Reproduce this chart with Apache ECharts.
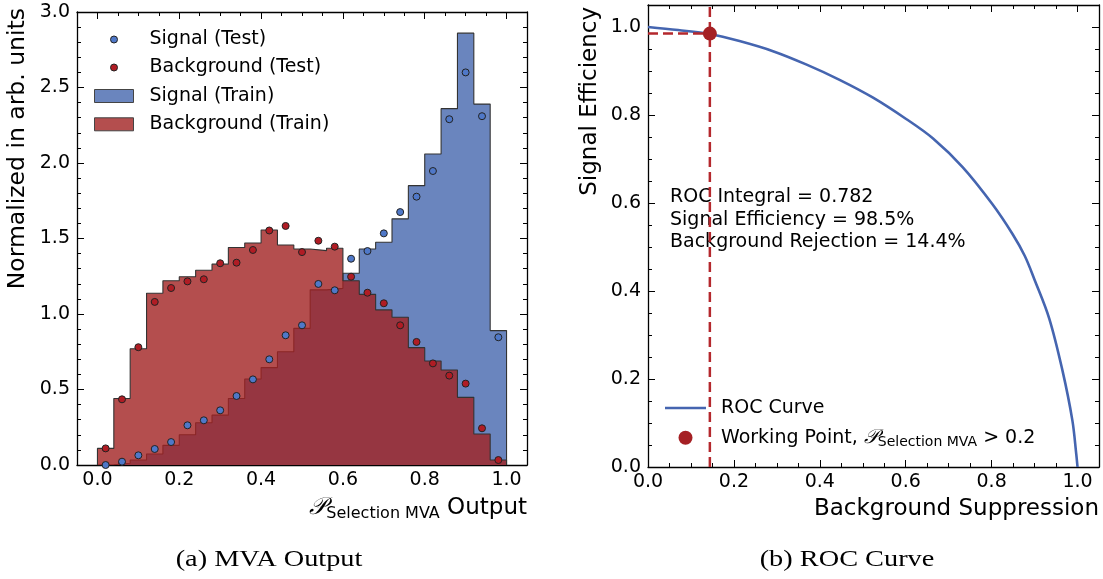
<!DOCTYPE html>
<html>
<head>
<meta charset="utf-8">
<script src="https://cdn.jsdelivr.net/npm/echarts@6/dist/echarts.min.js"></script>
<style>
html, body { margin: 0; padding: 0; background: #ffffff; }
#chart { width: 1103px; height: 579px; }
</style>
</head>
<body>
<div id="chart"></div>
<script>
// MVA output histograms: 25 bins of width 0.04 on [0, 1]
const binLow = 0.0;
const binWidth = 0.04;

const signalTrain = [0.002, 0.012, 0.033, 0.073, 0.13, 0.20, 0.28, 0.33, 0.44, 0.57, 0.645, 0.75, 0.905,
  1.16, 1.17, 1.27, 1.43, 1.475, 1.63, 1.85, 2.06, 2.36, 2.86, 2.39, 0.89];
const backgroundTrain = [0.11, 0.44, 0.77, 1.137, 1.22, 1.247, 1.29, 1.33, 1.44, 1.47, 1.556, 1.457, 1.43,
  1.42, 1.435, 1.22, 1.13, 1.027, 0.978, 0.777, 0.689, 0.629, 0.448, 0.205, 0.033];
const signalTest = [0.0, 0.022, 0.064, 0.106, 0.152, 0.263, 0.296, 0.362, 0.457, 0.567, 0.70, 0.859, 0.925,
  1.199, 1.157, 1.366, 1.417, 1.534, 1.675, 1.777, 1.947, 2.29, 2.60, 2.31, 0.846];
const backgroundTest = [0.11, 0.435, 0.78, 1.08, 1.172, 1.216, 1.23, 1.336, 1.34, 1.424, 1.553, 1.583, 1.41,
  1.485, 1.446, 1.247, 1.141, 1.071, 0.925, 0.815, 0.673, 0.592, 0.539, 0.243, 0.033];

// ROC curve: background suppression vs. signal efficiency
const rocSuppression = [0.0, 0.07, 0.144, 0.213, 0.291, 0.368, 0.446, 0.523, 0.601, 0.663, 0.733, 0.802,
  0.849, 0.877, 0.899, 0.934, 0.965, 0.988, 0.997, 1.0];
const rocEfficiency = [1.0, 0.993, 0.984, 0.968, 0.945, 0.915, 0.880, 0.840, 0.791, 0.747, 0.681, 0.597,
  0.529, 0.480, 0.428, 0.338, 0.219, 0.106, 0.03, 0.0];

// Working point summary
const rocIntegral = 0.782;
const wpEfficiency = 0.985;
const wpRejection = 0.144;
const wpCut = 0.2;

// Tick labels
const histXTicks = [0.0, 0.2, 0.4, 0.6, 0.8, 1.0];
const histYTicks = [0.0, 0.5, 1.0, 1.5, 2.0, 2.5, 3.0];
const rocXTicks = [0.0, 0.2, 0.4, 0.6, 0.8, 1.0];
const rocYTicks = [0.0, 0.2, 0.4, 0.6, 0.8, 1.0];

const FONT = 'DejaVu Sans';
const BLUE_FILL = '#6a85be';
const RED_FILL = 'rgba(161,34,34,0.8)';
const EDGE = '#333333';

function minorTicks(lo, hi, step, majors) {
  const out = [];
  const n = Math.round((hi - lo) / step);
  for (let i = 0; i <= n; i++) {
    const v = +(lo + i * step).toFixed(4);
    if (!majors.some(m => Math.abs(m - v) < 1e-6)) out.push(v);
  }
  return out;
}

// One frame side: a major axis (optionally labelled) plus a minor-tick axis
function sideAxes(gridIndex, position, min, max, majors, minors, labelled) {
  const base = { type: 'value', gridIndex, position, min, max, splitLine: { show: false } };
  const major = Object.assign({}, base, {
    axisLine: { show: true, onZero: false, lineStyle: { color: '#000', width: 1.3 } },
    axisTick: { show: true, inside: true, length: 7, customValues: majors, lineStyle: { color: '#000', width: 1 } },
    axisLabel: {
      show: labelled, customValues: majors, formatter: v => v.toFixed(1),
      fontSize: 19, fontFamily: FONT, color: '#000',
      margin: (position === 'bottom' || position === 'top') ? 6 : 7
    }
  });
  const minor = Object.assign({}, base, {
    axisLine: { show: false, onZero: false },
    axisTick: { show: true, inside: true, length: 4, customValues: minors, lineStyle: { color: '#000', width: 1 } },
    axisLabel: { show: false }
  });
  return [major, minor];
}

function stepPoints(values) {
  const pts = [[binLow, 0]];
  values.forEach((v, i) => pts.push([binLow + i * binWidth, v]));
  const hi = binLow + values.length * binWidth;
  pts.push([hi, values[values.length - 1]]);
  pts.push([hi, 0]);
  return pts;
}
function centres(values) {
  return values.map((v, i) => [binLow + (i + 0.5) * binWidth, v]);
}

const hx = [-0.05, 1.05], hy = [0, 3.0];
const rx = [0, 1.05], ry = [0, 1.05];
const hxMinor = minorTicks(0, 1.0, 0.05, histXTicks);
const hyMinor = minorTicks(0, 3.0, 0.1, histYTicks);
const rxMinor = minorTicks(0, 1.0, 0.05, rocXTicks);
const ryMinor = minorTicks(0, 1.0, 0.05, rocYTicks);

const xAxes = [].concat(
  sideAxes(0, 'bottom', hx[0], hx[1], histXTicks, hxMinor, true),   // 0,1
  sideAxes(0, 'top', hx[0], hx[1], histXTicks, hxMinor, false),     // 2,3
  sideAxes(1, 'bottom', rx[0], rx[1], rocXTicks, rxMinor, true),    // 4,5
  sideAxes(1, 'top', rx[0], rx[1], rocXTicks, rxMinor, false)       // 6,7
);
const yAxes = [].concat(
  sideAxes(0, 'left', hy[0], hy[1], histYTicks, hyMinor, true),
  sideAxes(0, 'right', hy[0], hy[1], histYTicks, hyMinor, false),
  sideAxes(1, 'left', ry[0], ry[1], rocYTicks, ryMinor, true),
  sideAxes(1, 'right', ry[0], ry[1], rocYTicks, ryMinor, false)
);

const pRich = {
  t: { fontSize: 19, fontFamily: FONT, color: '#000', lineHeight: 24 },
  p: { fontSize: 20, fontFamily: 'DejaVu Serif', fontStyle: 'italic', color: '#000', lineHeight: 24 },
  s: { fontSize: 14, fontFamily: FONT, color: '#000', lineHeight: 14, verticalAlign: 'bottom' }
};

const option = {
  animation: false,
  backgroundColor: '#ffffff',
  grid: [
    { left: 77, top: 12, width: 450, height: 453 },
    { left: 648, top: 5, width: 451, height: 462 }
  ],
  xAxis: xAxes,
  yAxis: yAxes,
  legend: [
    {
      data: [
        { name: 'Signal (Test)', icon: 'circle', itemStyle: { color: '#4f78c8', borderColor: '#222', borderWidth: 1 } },
        { name: 'Background (Test)', icon: 'circle', itemStyle: { color: '#b01c24', borderColor: '#222', borderWidth: 1 } }
      ],
      orient: 'vertical', left: 110, top: 30, padding: 0, itemGap: 9,
      itemWidth: 39, itemHeight: 7,
      textStyle: { fontSize: 19, fontFamily: FONT, color: '#000', padding: [0, 0, 0, 11] }
    },
    {
      data: [
        { name: 'Signal (Train)', icon: 'rect', itemStyle: { color: BLUE_FILL, borderColor: '#444', borderWidth: 1 } },
        { name: 'Background (Train)', icon: 'rect', itemStyle: { color: RED_FILL, borderColor: '#444', borderWidth: 1 } }
      ],
      orient: 'vertical', left: 94, top: 86.5, padding: 0, itemGap: 9.3,
      itemWidth: 39, itemHeight: 13,
      textStyle: { fontSize: 19, fontFamily: FONT, color: '#000', padding: [0, 0, 0, 11] }
    },
    {
      data: [
        { name: 'ROC Curve', icon: 'path://M0,0L41,0L41,2.6L0,2.6Z', itemStyle: { color: '#4565b0', borderWidth: 0 } },
        { name: 'Working Point', icon: 'circle', itemStyle: { color: '#a52024', borderWidth: 0 } }
      ],
      orient: 'vertical', left: 665, top: 398.5, padding: 0, itemGap: 10.3,
      itemWidth: 41, itemHeight: 14,
      formatter: name => name === 'Working Point'
        ? '{t|Working Point, }{p|𝒫}{s|Selection MVA}{t| > ' + wpCut + '}'
        : '{t|' + name + '}',
      textStyle: { fontSize: 19, fontFamily: FONT, color: '#000', padding: [0, 0, 0, 10], rich: pRich }
    }
  ],
  series: [
    {
      name: 'Signal (Train)', type: 'line', step: 'end', xAxisIndex: 0, yAxisIndex: 0,
      data: stepPoints(signalTrain), symbol: 'none', z: 2,
      itemStyle: { color: BLUE_FILL },
      lineStyle: { color: EDGE, width: 1.1 },
      areaStyle: { color: BLUE_FILL, opacity: 1 }
    },
    {
      name: 'Background (Train)', type: 'line', step: 'end', xAxisIndex: 0, yAxisIndex: 0,
      data: stepPoints(backgroundTrain), symbol: 'none', z: 3,
      itemStyle: { color: RED_FILL },
      lineStyle: { color: EDGE, width: 1.1 },
      areaStyle: { color: RED_FILL, opacity: 1 }
    },
    {
      name: 'Signal (Test)', type: 'scatter', xAxisIndex: 0, yAxisIndex: 0,
      data: centres(signalTest), symbolSize: 7, z: 5,
      itemStyle: { color: '#4f78c8', borderColor: '#222', borderWidth: 1, opacity: 1 }
    },
    {
      name: 'Background (Test)', type: 'scatter', xAxisIndex: 0, yAxisIndex: 0,
      data: centres(backgroundTest), symbolSize: 7, z: 5,
      itemStyle: { color: '#b01c24', borderColor: '#222', borderWidth: 1, opacity: 1 }
    },
    {
      name: 'ROC Curve', type: 'line', xAxisIndex: 4, yAxisIndex: 4,
      data: rocSuppression.map((x, i) => [x, rocEfficiency[i]]),
      symbol: 'none', smooth: 0.35, z: 3,
      itemStyle: { color: '#4565b0' },
      lineStyle: { color: '#4565b0', width: 2.6 }
    },
    {
      name: 'wp-vertical', type: 'line', xAxisIndex: 4, yAxisIndex: 4,
      data: [[wpRejection, 0], [wpRejection, ry[1]]], symbol: 'none', z: 4,
      lineStyle: { color: '#b4282d', width: 2.5, type: [10, 5] }
    },
    {
      name: 'wp-horizontal', type: 'line', xAxisIndex: 4, yAxisIndex: 4,
      data: [[0, wpEfficiency], [wpRejection, wpEfficiency]], symbol: 'none', z: 4,
      lineStyle: { color: '#b4282d', width: 2.5, type: [10, 5] }
    },
    {
      name: 'Working Point', type: 'scatter', xAxisIndex: 4, yAxisIndex: 4,
      data: [[wpRejection, wpEfficiency]], symbolSize: 14, z: 6,
      itemStyle: { color: '#a52024', opacity: 1 }
    }
  ],
  graphic: [
    {
      type: 'text', x: 18, y: 8, rotation: Math.PI / 2, z: 10,
      style: { text: 'Normalized in arb. units', fontSize: 23.5, fontFamily: FONT, fill: '#000', align: 'right', verticalAlign: 'middle' }
    },
    {
      type: 'text', x: 527, y: 508, z: 10,
      style: {
        text: '{p|𝒫}{s|Selection MVA}{t| Output}', align: 'right', verticalAlign: 'middle',
        rich: {
          t: { fontSize: 23, fontFamily: FONT, fill: '#000', lineHeight: 28 },
          p: { fontSize: 24, fontFamily: 'DejaVu Serif', fontStyle: 'italic', fill: '#000', lineHeight: 28 },
          s: { fontSize: 16, fontFamily: FONT, fill: '#000', lineHeight: 16, verticalAlign: 'bottom' }
        }
      }
    },
    {
      type: 'text', x: 590, y: 7, rotation: Math.PI / 2, z: 10,
      style: { text: 'Signal Efficiency', fontSize: 23, fontFamily: FONT, fill: '#000', align: 'right', verticalAlign: 'middle' }
    },
    {
      type: 'text', x: 1099, y: 509, z: 10,
      style: { text: 'Background Suppression', fontSize: 23, fontFamily: FONT, fill: '#000', align: 'right', verticalAlign: 'middle' }
    },
    {
      type: 'text', x: 670, y: 186, z: 1,
      style: {
        text: 'ROC Integral = ' + rocIntegral.toFixed(3) + '\n' +
              'Signal Efficiency = ' + (wpEfficiency * 100).toFixed(1) + '%\n' +
              'Background Rejection = ' + (wpRejection * 100).toFixed(1) + '%',
        fontSize: 19, fontFamily: FONT, fill: '#000', lineHeight: 22.5, align: 'left', verticalAlign: 'top'
      }
    },
    {
      type: 'text', x: 269, y: 560, z: 10, scaleX: 1.18,
      style: { text: '(a) MVA Output', fontSize: 24, fontFamily: 'Liberation Serif', fill: '#000', align: 'center', verticalAlign: 'middle' }
    },
    {
      type: 'text', x: 847, y: 560, z: 10, scaleX: 1.18,
      style: { text: '(b) ROC Curve', fontSize: 24, fontFamily: 'Liberation Serif', fill: '#000', align: 'center', verticalAlign: 'middle' }
    }
  ]
};

const chart = echarts.init(document.getElementById('chart'), null, { renderer: 'canvas' });
chart.setOption(option);
</script>
</body>
</html>
